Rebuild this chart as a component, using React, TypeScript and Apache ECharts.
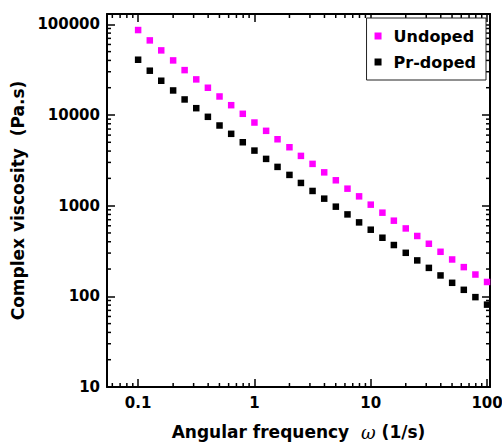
import React, { useEffect, useRef } from "react";
import * as echarts from "echarts";

const FREQ = [0.1, 0.126, 0.158, 0.2, 0.251, 0.316, 0.398, 0.501, 0.631, 0.794, 1, 1.26, 1.58, 2, 2.51, 3.16, 3.98, 5.01, 6.31, 7.94, 10, 12.6, 15.8, 20, 25.1, 31.6, 39.8, 50.1, 63.1, 79.4, 100];
const UNDOPED = [86500, 66500, 51600, 40000, 31260, 24700, 19980, 16010, 12830, 10310, 8260, 6690, 5400, 4410, 3540, 2890, 2330, 1905, 1540, 1267, 1026, 837, 683, 561, 463, 380, 310, 255, 210, 174, 144];
const PR_DOPED = [40700, 30800, 23870, 18650, 14840, 11890, 9550, 7660, 6200, 5005, 4050, 3280, 2677, 2184, 1781, 1453, 1195, 975, 801, 654, 543, 443, 368, 302, 249, 206, 170, 141, 118, 98, 81];
const SERIES_NAMES = ["Undoped", "Pr-doped"];
const X_MIN = 0.054;
const X_MAX = 106;
const Y_MIN = 10;
const Y_MAX = 130000;
const X_MINOR = [0.06, 0.07, 0.08, 0.09, 0.2, 0.3, 0.4, 0.5, 0.6, 0.7, 0.8, 0.9, 2, 3, 4, 5, 6, 7, 8, 9, 20, 30, 40, 50, 60, 70, 80, 90];
const Y_MINOR = [20, 30, 40, 50, 60, 70, 80, 90, 200, 300, 400, 500, 600, 700, 800, 900, 2000, 3000, 4000, 5000, 6000, 7000, 8000, 9000, 20000, 30000, 40000, 50000, 60000, 70000, 80000, 90000];

const FONT = "DejaVu Sans";
const MAJOR_LEN = 8;
const MINOR_LEN = 4;

export default function App() {
  const ref = useRef<HTMLDivElement>(null);
  useEffect(() => {
    document.body.style.margin = "0";
    if (!ref.current) return;
    const chart = echarts.init(ref.current, null, { renderer: "svg" });
    const axisLine = { show: true, lineStyle: { color: "#000", width: 2 } };
    const axisTick = { show: true, inside: true, length: MAJOR_LEN, lineStyle: { color: "#000", width: 1.5 } };
    const labelStyle = { color: "#000", fontFamily: FONT, fontWeight: "bold" as const, fontSize: 15 };
    const tickStroke = { stroke: "#000", lineWidth: 1.5 };
    chart.setOption({
      animation: false,
      grid: { left: 107, right: 12, top: 14, bottom: 57, outerBoundsMode: "none" },
      legend: {
        data: SERIES_NAMES.map((n) => ({ name: n, icon: "rect" })),
        orient: "vertical",
        right: 16,
        top: 18,
        itemWidth: 7,
        itemHeight: 7,
        itemGap: 10,
        padding: [10, 10, 10, 8],
        borderColor: "#222",
        borderWidth: 1,
        backgroundColor: "#fff",
        textStyle: { color: "#000", fontFamily: FONT, fontWeight: "bold", fontSize: 16, padding: [0, 0, 0, 7] },
      },
      xAxis: [
        {
          type: "log",
          min: X_MIN,
          max: X_MAX,
          position: "bottom",
          axisLine,
          axisTick,
          splitLine: { show: false },
          axisLabel: {
            ...labelStyle,
            margin: 8,
            showMinLabel: false,
            showMaxLabel: false,
            formatter: (v: number) => String(v),
          },
          name: "{a|Angular frequency  }{w|ω}{a| (1/s)}",
          nameLocation: "middle",
          nameGap: 36,
          nameTextStyle: {
            rich: {
              a: { color: "#000", fontFamily: FONT, fontWeight: "bold", fontSize: 17 },
              w: { color: "#000", fontFamily: "DejaVu Serif", fontStyle: "italic", fontSize: 18 },
            },
          },
        },
        {
          type: "log",
          min: X_MIN,
          max: X_MAX,
          position: "top",
          axisLine,
          axisTick,
          splitLine: { show: false },
          axisLabel: { show: false },
        },
      ],
      yAxis: [
        {
          type: "log",
          min: Y_MIN,
          max: Y_MAX,
          position: "left",
          axisLine,
          axisTick,
          splitLine: { show: false },
          axisLabel: {
            ...labelStyle,
            margin: 7,
            showMaxLabel: false,
            formatter: (v: number) => String(v),
          },
          name: "Complex viscosity  (Pa.s)",
          nameLocation: "middle",
          nameGap: 76,
          nameTextStyle: { color: "#000", fontFamily: FONT, fontWeight: "bold", fontSize: 17 },
        },
        {
          type: "log",
          min: Y_MIN,
          max: Y_MAX,
          position: "right",
          axisLine,
          axisTick,
          splitLine: { show: false },
          axisLabel: { show: false },
        },
      ],
      series: [
        {
          name: SERIES_NAMES[0],
          type: "scatter",
          symbol: "rect",
          symbolSize: 6.5,
          itemStyle: { color: "#ff00ff", opacity: 1 },
          data: FREQ.map((x, i) => [x, UNDOPED[i]]),
          z: 3,
        },
        {
          name: SERIES_NAMES[1],
          type: "scatter",
          symbol: "rect",
          symbolSize: 6.5,
          itemStyle: { color: "#000", opacity: 1 },
          data: FREQ.map((x, i) => [x, PR_DOPED[i]]),
          z: 3,
        },
        {
          type: "custom",
          silent: true,
          data: X_MINOR.map((v) => [v, Y_MIN]),
          renderItem: (_p: any, api: any) => {
            const v = api.value(0);
            const b = api.coord([v, Y_MIN]);
            const t = api.coord([v, Y_MAX]);
            return {
              type: "group",
              children: [
                { type: "line", shape: { x1: b[0], y1: b[1], x2: b[0], y2: b[1] - MINOR_LEN }, style: tickStroke },
                { type: "line", shape: { x1: t[0], y1: t[1], x2: t[0], y2: t[1] + MINOR_LEN }, style: tickStroke },
              ],
            };
          },
        },
        {
          type: "custom",
          silent: true,
          data: Y_MINOR.map((v) => [X_MIN, v]),
          renderItem: (_p: any, api: any) => {
            const v = api.value(1);
            const l = api.coord([X_MIN, v]);
            const r = api.coord([X_MAX, v]);
            return {
              type: "group",
              children: [
                { type: "line", shape: { x1: l[0], y1: l[1], x2: l[0] + MINOR_LEN, y2: l[1] }, style: tickStroke },
                { type: "line", shape: { x1: r[0], y1: r[1], x2: r[0] - MINOR_LEN, y2: r[1] }, style: tickStroke },
              ],
            };
          },
        },
      ],
    });
    return () => chart.dispose();
  }, []);
  return <div ref={ref} style={{ width: 502, height: 444 }} />;
}
